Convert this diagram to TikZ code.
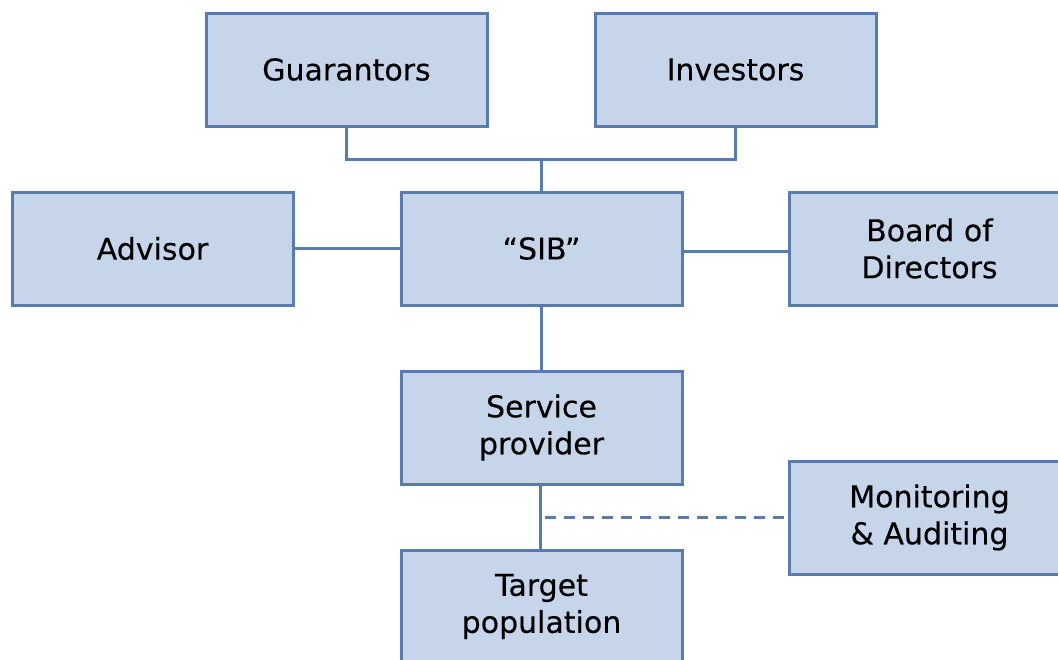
\documentclass[tikz,border=0pt]{standalone}
\usepackage{fontspec}
\setmainfont[FakeBold=0.3]{DejaVu Sans}
\definecolor{boxfill}{HTML}{C6D5EA}
\definecolor{boxline}{HTML}{5A7CAD}
\begin{document}
\begin{tikzpicture}[x=1pt,y=-1pt,
  orgbox/.style={draw=boxline,fill=boxfill,line width=3pt,minimum width=281pt,minimum height=113pt,
    align=center,inner sep=0pt,font=\fontsize{30}{37}\selectfont,text=black},
  link/.style={draw=boxline,line width=3pt},
  dlink/.style={draw=boxline,line width=3pt,dash pattern=on 11pt off 8pt}]
\clip (0,0) rectangle (1058,659);
\fill[white] (0,0) rectangle (1058,659);
\node[orgbox] (guar) at (346.5,69.5) {Guarantors};
\node[orgbox] (inv) at (735.5,69.5) {Investors};
\node[orgbox] (adv) at (152.5,248.5) {Advisor};
\node[orgbox] (sib) at (541.5,248.5) {“SIB”};
\node[orgbox] (board) at (929.5,248.5) {Board of\\Directors};
\node[orgbox] (sp) at (541.5,427.5) {Service\\provider};
\node[orgbox] (mon) at (929.5,517.5) {Monitoring\\\& Auditing};
\node[orgbox] (tgt) at (541.5,606.5) {Target\\population};
\coordinate (junc) at (541.5,159);
\coordinate (dstart) at (545,517);
\draw[link] (guar.south) |- (junc) -| (inv.south);
\draw[link] (junc) -- (sib.north);
\draw[link] (adv.east) -- (sib.west);
\draw[link] (sib.east |- 0,251) -- (board.west |- 0,251);
\draw[link] (sib.south) -- (sp.north);
\draw[link] (sp.south -| 540,0) -- (tgt.north -| 540,0);
\draw[dlink] (dstart) -- (mon.west |- dstart);
\end{tikzpicture}
\end{document}
